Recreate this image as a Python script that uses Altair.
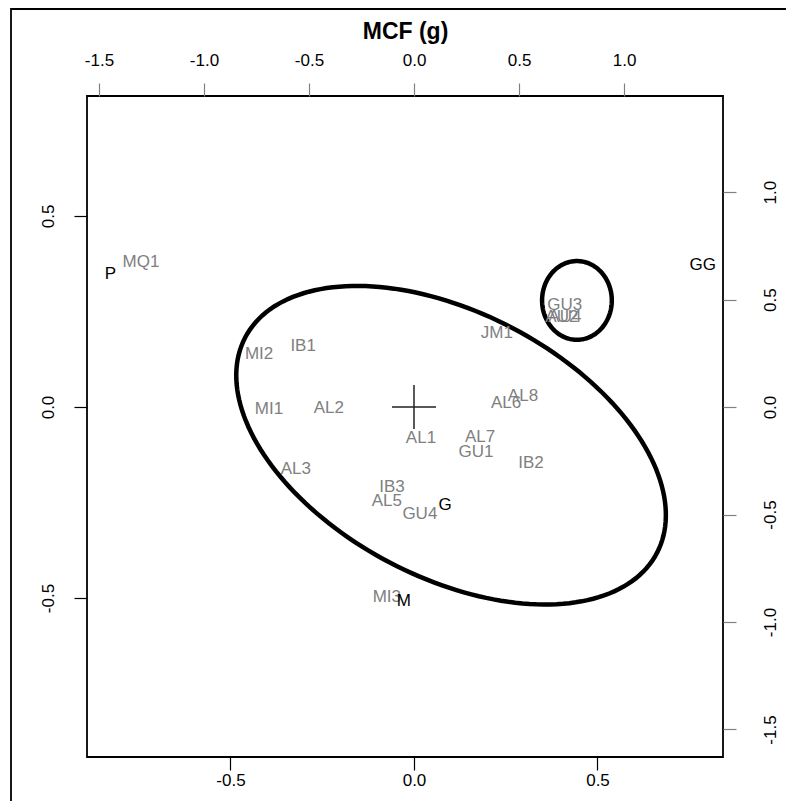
import altair as alt
import pandas as pd
import numpy as np

# ---- sample scores (grey labels), bottom/left axes ----
sample_labels = ["MQ1", "MI2", "IB1", "JM1", "GU3", "AU2", "AU4", "MI1", "AL2", "AL6",
                 "AL8", "AL1", "AL7", "GU1", "IB2", "AL3", "IB3", "AL5", "GU4", "MI3"]
sample_x = [-0.744, -0.422, -0.302, 0.226, 0.411, 0.403, 0.411, -0.395, -0.232, 0.251,
            0.297, 0.019, 0.180, 0.169, 0.319, -0.322, -0.060, -0.074, 0.016, -0.074]
sample_y = [0.380, 0.139, 0.160, 0.194, 0.267, 0.236, 0.236, -0.005, -0.003, 0.010,
            0.029, -0.081, -0.079, -0.118, -0.147, -0.162, -0.209, -0.246, -0.280, -0.497]

# ---- variable labels (black), top/right axes ----
var_labels = ["P", "GG", "G", "M"]
var_x = [-1.446, 1.374, 0.148, -0.048]
var_y = [0.620, 0.662, -0.458, -0.903]

# ---- ellipses (centre and conjugate semi-axis vectors, bottom/left units) ----
ell_id = ["big", "small"]
ell_cx = [0.101, 0.444]
ell_cy = [-0.100, 0.279]
ell_ax = [0.561, 0.095]
ell_ay = [-0.282, 0.0]
ell_bx = [0.167, 0.0]
ell_by = [0.307, 0.103]

# ---- axis ticks ----
bottom_ticks = [-0.5, 0.0, 0.5]
left_ticks = [-0.5, 0.0, 0.5]
top_ticks = [-1.5, -1.0, -0.5, 0.0, 0.5, 1.0]
right_ticks = [-1.5, -1.0, -0.5, 0.0, 0.5, 1.0]

main_xdom = [-0.891, 0.842]
main_ydom = [-0.916, 0.814]
sec_xdom = [-1.557, 1.471]
sec_ydom = [-1.628, 1.447]

FONT = "Liberation Sans"
GREY = "#808080"
LBL = "datum.value < 0 ? '-' + format(-datum.value, '.1f') : format(datum.value, '.1f')"

samples = pd.DataFrame({"label": sample_labels, "x": sample_x, "y": sample_y})
variables = pd.DataFrame({"label": var_labels, "x": var_x, "y": var_y})

rows = []
t = np.linspace(0, 2 * np.pi, 181)
for i, e in enumerate(ell_id):
    for k, tt in enumerate(t):
        rows.append({
            "id": e, "k": k,
            "x": ell_cx[i] + ell_ax[i] * np.cos(tt) + ell_bx[i] * np.sin(tt),
            "y": ell_cy[i] + ell_ay[i] * np.cos(tt) + ell_by[i] * np.sin(tt),
        })
ellipses = pd.DataFrame(rows)
origin = pd.DataFrame({"x": [0.0], "y": [0.0]})

x_main = alt.X("x:Q", scale=alt.Scale(domain=main_xdom, nice=False, zero=False),
               axis=alt.Axis(orient="bottom", values=bottom_ticks, labelExpr=LBL, title=None,
                             grid=False, domain=False, tickColor="black", tickSize=13,
                             tickWidth=1.2, labelFontSize=17, labelFont=FONT,
                             labelColor="black", labelBaseline="top", labelPadding=2))
y_main = alt.Y("y:Q", scale=alt.Scale(domain=main_ydom, nice=False, zero=False),
               axis=alt.Axis(orient="left", values=left_ticks, labelExpr=LBL, title=None,
                             grid=False, domain=False, tickColor="black", tickSize=13,
                             tickWidth=1.2, labelFontSize=17, labelFont=FONT,
                             labelColor="black", labelAngle=-90, labelAlign="center",
                             labelBaseline="alphabetic", labelPadding=21))

frame = alt.Chart(pd.DataFrame({"a": [0]})).mark_rect(
    fill=None, stroke="black", strokeWidth=1.8
).encode(x=alt.value(-76), x2=alt.value(3000), y=alt.value(-87), y2=alt.value(3000))

ell = alt.Chart(ellipses).mark_line(color="black", strokeWidth=4.5).encode(
    x=x_main, y=y_main, detail="id:N", order="k:Q")

cross = alt.Chart(origin).mark_point(
    shape="M-1,0L1,0M0,-1L0,1", size=1936, stroke="#222222", strokeWidth=1.5, filled=False, opacity=1
).encode(x=x_main, y=y_main)

grey_text = alt.Chart(samples).mark_text(
    font=FONT, fontSize=17, color=GREY, align="center", baseline="middle"
).encode(x=x_main, y=y_main, text="label:N")

inner = alt.layer(frame, ell, cross, grey_text)

x_sec = alt.X("x:Q", scale=alt.Scale(domain=sec_xdom, nice=False, zero=False),
              axis=alt.Axis(orient="top", values=top_ticks, labelExpr=LBL, title="MCF (g)",
                            titleFont=FONT, titleFontSize=23, titleFontWeight="bold",
                            titleColor="black", titlePadding=8,
                            grid=False, domain=False, tickColor=GREY, tickSize=13,
                            tickWidth=1.2, labelFontSize=17, labelFont=FONT,
                            labelColor="black", labelBaseline="alphabetic", labelPadding=18))
y_sec = alt.Y("y:Q", scale=alt.Scale(domain=sec_ydom, nice=False, zero=False),
              axis=alt.Axis(orient="right", values=right_ticks, labelExpr=LBL, title=None,
                            grid=False, domain=False, tickColor=GREY, tickSize=13,
                            tickWidth=1.2, labelFontSize=17, labelFont=FONT,
                            labelColor="black", labelAngle=-90, labelAlign="center",
                            labelBaseline="alphabetic", labelPadding=39))

black_text = alt.Chart(variables).mark_text(
    font=FONT, fontSize=17, color="black", align="center", baseline="middle"
).encode(x=x_sec, y=y_sec, text="label:N")

chart = alt.layer(inner, black_text).resolve_scale(x="independent", y="independent").properties(
    width=636, height=661,
    background="white",
    autosize=alt.AutoSizeParams(type="none"),
    padding={"left": 79, "top": 88, "right": 63, "bottom": 44},
).configure_view(stroke="black", strokeWidth=1.8)

chart.save("out.html", embed_options={"renderer": "svg", "actions": False})
